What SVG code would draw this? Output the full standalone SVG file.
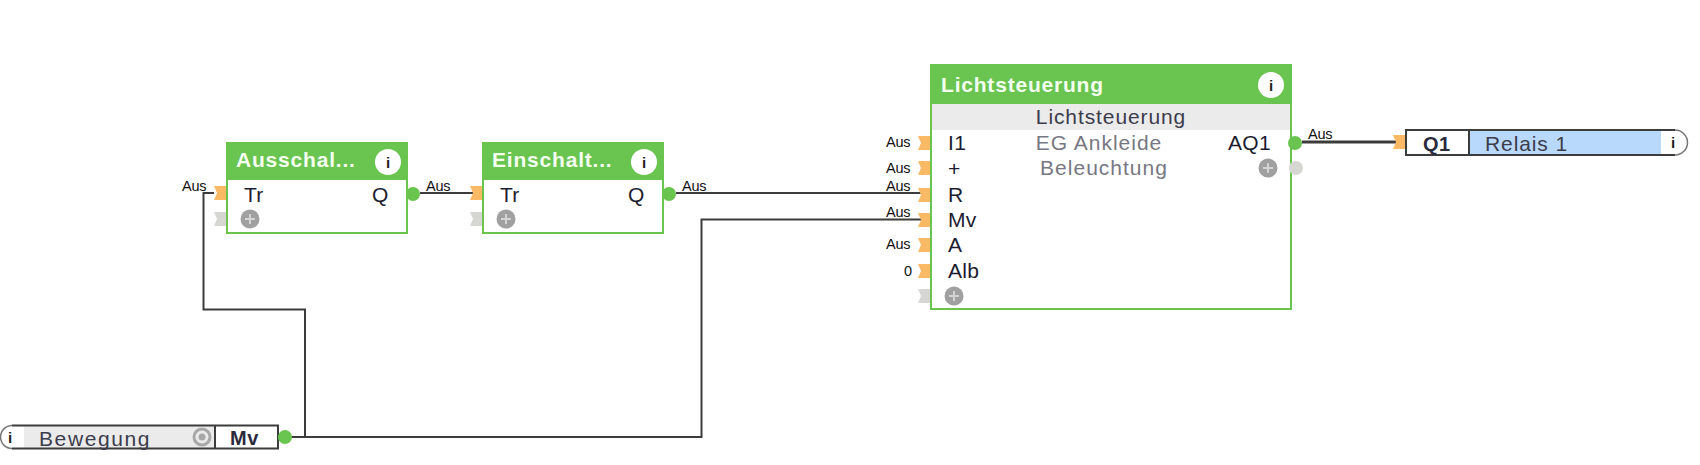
<svg xmlns="http://www.w3.org/2000/svg" width="1700" height="465" viewBox="0 0 1700 465">
<style>
text{font-family:"Liberation Sans",Arial,sans-serif;fill:#222}
.t{font-size:21px;font-weight:bold;fill:#f4fff0;letter-spacing:.8px}
.p{font-size:21px;fill:#1c1c30;letter-spacing:.3px}
.g{font-size:21px;fill:#777783;letter-spacing:1px}
.d{font-size:21px;fill:#3c3c4c;letter-spacing:.9px}
.m{font-size:20px;font-weight:bold;fill:#2a2a3c;letter-spacing:.5px}
.s{font-size:14.500px;fill:#111;letter-spacing:-.2px}
.box{fill:#fff;stroke:#69c450;stroke-width:2}
.hd{fill:#69c450}
.w{fill:none;stroke:#3c3c3c;stroke-width:2}
.arc{fill:none;stroke:#777;stroke-width:1.500}
.in{fill:#fab964}
.off{fill:#d6d6d2}
.out{fill:#69c450}
.plus{fill:#a0a0a0}
.pl{stroke:#d4d4d4;stroke-width:2}
.i{font-size:15px;font-weight:bold;fill:#222;text-anchor:middle}
</style>
<defs>
<path id="pin" d="M0 -7H12V7H0L3 0Z"/>
<g id="add"><circle r="9.500" class="plus"/><path d="M-5 0H5M0 -5V5" class="pl"/></g>
<g id="info"><circle r="13" fill="#fff"/><text y="6" class="i">i</text></g>
</defs>
<g id="connectors">
<path class="w" d="M420 193H475"/>
<path class="w" d="M676 193H924"/>
<path class="w" d="M214 193H203.500V309.500H305V437"/>
<path class="w" d="M290 437H701.500V219.500H924"/>
<path class="w" style="stroke-width:3" d="M1302 142H1398"/>
</g>
<g id="ausschalt">
<rect class="box" x="227" y="143" width="180" height="90"/>
<rect class="hd" x="226" y="142" width="182" height="38"/>
<use href="#pin" class="in" x="214" y="193"/><use href="#pin" class="off" x="214" y="219"/>
<circle class="out" cx="413" cy="194" r="7"/>
<use href="#info" x="388" y="162"/><use href="#add" x="250" y="219"/>
<text class="t" x="236" y="167">Ausschal...</text>
<text class="p" x="244" y="202">Tr</text><text class="p" x="372" y="202">Q</text>
<text class="s" x="182" y="191">Aus</text><text class="s" x="426" y="191">Aus</text>
</g>
<g id="einschalt">
<rect class="box" x="483" y="143" width="180" height="90"/>
<rect class="hd" x="482" y="142" width="182" height="38"/>
<use href="#pin" class="in" x="470" y="193"/><use href="#pin" class="off" x="470" y="219"/>
<circle class="out" cx="669" cy="194" r="7"/>
<use href="#info" x="644" y="162"/><use href="#add" x="506" y="219"/>
<text class="t" x="492" y="167">Einschalt...</text>
<text class="p" x="500" y="202">Tr</text><text class="p" x="628" y="202">Q</text>
<text class="s" x="682" y="191">Aus</text>
</g>
<g id="lichtsteuerung">
<rect class="box" x="931" y="65" width="360" height="244"/>
<rect class="hd" x="930" y="64" width="362" height="40" rx="2"/>
<rect x="932" y="104" width="358" height="26" fill="#ebebeb"/>
<use href="#pin" class="in" x="918" y="143"/><use href="#pin" class="in" x="918" y="168"/>
<use href="#pin" class="in" x="918" y="195"/><use href="#pin" class="in" x="918" y="220"/>
<use href="#pin" class="in" x="918" y="245"/><use href="#pin" class="in" x="918" y="271"/>
<use href="#pin" class="off" x="918" y="296"/>
<circle class="out" cx="1295" cy="143" r="7"/><circle class="off" cx="1296" cy="168" r="7"/>
<use href="#info" x="1271" y="85"/><use href="#add" x="954" y="296"/><use href="#add" x="1268" y="168"/>
<text class="t" x="941" y="92">Lichtsteuerung</text>
<text class="d" x="1111" y="124" text-anchor="middle">Lichtsteuerung</text>
<text class="g" x="1099" y="150" text-anchor="middle">EG Ankleide</text>
<text class="g" x="1104" y="175" text-anchor="middle">Beleuchtung</text>
<text class="p" x="948" y="150">I1</text><text class="p" x="948" y="176">+</text>
<text class="p" x="948" y="202">R</text><text class="p" x="948" y="227">Mv</text>
<text class="p" x="948" y="252">A</text><text class="p" x="948" y="278">Alb</text>
<text class="p" x="1228" y="150">AQ1</text>
<text class="s" x="886" y="147">Aus</text><text class="s" x="886" y="173">Aus</text>
<text class="s" x="886" y="191">Aus</text><text class="s" x="886" y="217">Aus</text>
<text class="s" x="886" y="249">Aus</text><text class="s" x="904" y="276">0</text>
<text class="s" x="1308" y="139">Aus</text>
</g>
<g id="relais">
<use href="#pin" class="in" x="1393" y="142"/>
<path d="M1406 130H1675A12.500 12.500 0 0 1 1675 155H1406Z" fill="#fff"/>
<rect x="1470" y="131" width="191" height="23" fill="#b8d9fc"/>
<path class="w" d="M1675 130H1406V155H1675M1469 130V155"/>
<path class="arc" d="M1675 130A12.500 12.500 0 0 1 1675 155"/>
<text class="m" x="1423" y="151">Q1</text>
<text class="d" x="1485" y="151">Relais 1</text>
<text class="i" x="1673" y="148">i</text>
</g>
<g id="bewegung">
<rect x="24" y="426" width="191" height="22" fill="#ebebeb"/>
<path class="w" d="M12 425.500H278V448.500H12M215 425V449"/>
<path class="arc" d="M12 425.500A11.500 11.500 0 0 0 12 448.500"/>
<circle cx="202" cy="437" r="8" fill="none" stroke="#a8a8a8" stroke-width="3"/><circle cx="202" cy="437" r="3.500" fill="#a8a8a8"/>
<circle class="out" cx="285" cy="437" r="7"/>
<text class="d" x="39" y="446" style="letter-spacing:1.600px">Bewegung</text>
<text class="m" x="230" y="445">Mv</text>
<text class="i" x="10" y="443">i</text>
</g>
</svg>
